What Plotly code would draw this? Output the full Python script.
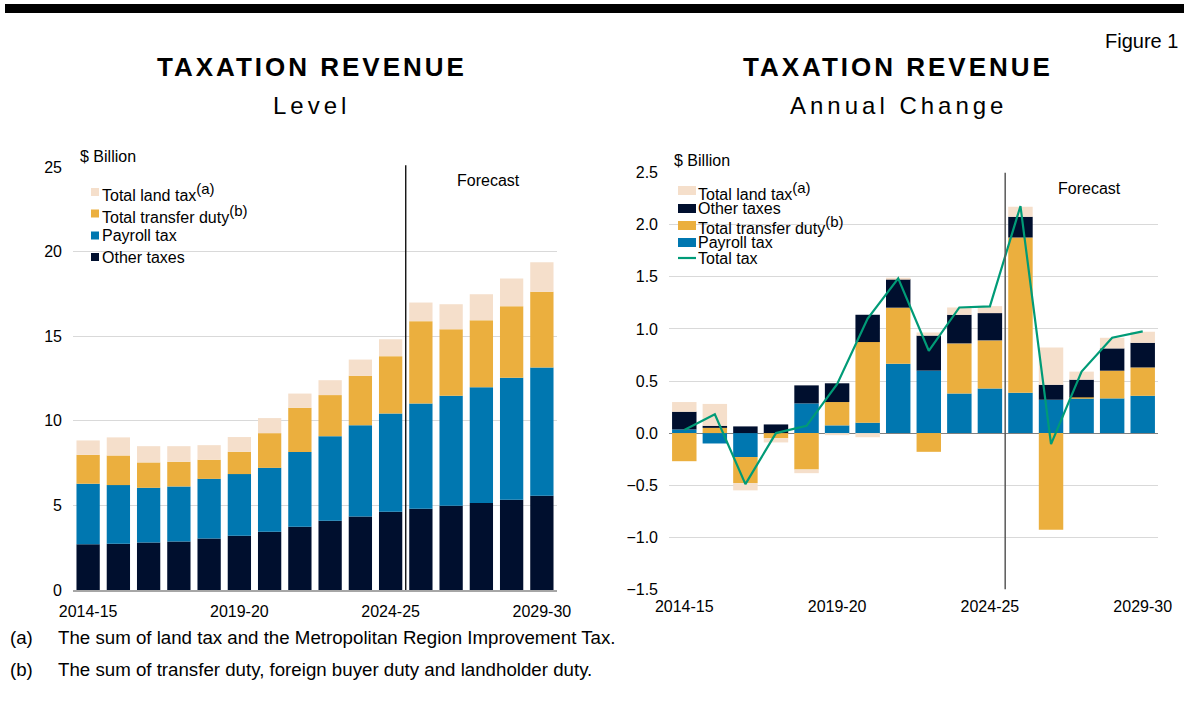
import plotly.graph_objects as go

W, H = 1184, 706

years = ["2014-15", "2015-16", "2016-17", "2017-18", "2018-19", "2019-20", "2020-21", "2021-22",
         "2022-23", "2023-24", "2024-25", "2025-26", "2026-27", "2027-28", "2028-29", "2029-30"]
tick_years = ["2014-15", "2019-20", "2024-25", "2029-30"]

# Level ($ billion)
other_level = [2.70, 2.74, 2.80, 2.87, 3.05, 3.21, 3.44, 3.74, 4.09, 4.35, 4.63, 4.80, 4.98, 5.14, 5.33, 5.57]
payroll_level = [3.58, 3.46, 3.24, 3.25, 3.52, 3.64, 3.78, 4.41, 5.00, 5.39, 5.80, 6.22, 6.50, 6.85, 7.21, 7.58]
transfer_level = [1.71, 1.75, 1.50, 1.46, 1.13, 1.32, 2.05, 2.62, 2.43, 2.92, 3.39, 4.87, 3.93, 3.95, 4.23, 4.47]
land_level = [0.85, 1.07, 0.96, 0.92, 0.86, 0.87, 0.89, 0.84, 0.88, 0.96, 1.00, 1.10, 1.48, 1.54, 1.64, 1.75]

# Annual change ($ billion)
payroll_chg = [0.035, -0.10, -0.23, 0.0, 0.285, 0.074, 0.10, 0.666, 0.60, 0.381, 0.429, 0.387, 0.32, 0.333, 0.333, 0.358]
transfer_chg = [-0.27, 0.05, -0.25, -0.05, -0.35, 0.224, 0.774, 0.538, -0.18, 0.48, 0.461, 1.491, -0.928, 0.01, 0.266, 0.272]
other_chg = [0.17, 0.02, 0.064, 0.083, 0.173, 0.18, 0.262, 0.275, 0.336, 0.275, 0.262, 0.198, 0.144, 0.17, 0.214, 0.237]
land_chg = [0.093, 0.21, -0.07, -0.04, -0.035, -0.02, -0.04, 0.005, 0.03, 0.07, 0.067, 0.096, 0.358, 0.077, 0.102, 0.106]
total_chg = [0.03, 0.18, -0.49, 0.0, 0.07, 0.47, 1.10, 1.485, 0.79, 1.206, 1.216, 2.18, -0.106, 0.59, 0.915, 0.976]

forecast_start = 10.5  # between 2024-25 and 2025-26

C_OTHER = "#000F2E"
C_PAYROLL = "#0077B0"
C_TRANSFER = "#EBAF3E"
C_LAND = "#F5DFCB"
C_TOTAL = "#009B77"
FONT = "Arial, 'Liberation Sans', sans-serif"


def fx(p):
    return p / W


def fy(p):
    return 1 - p / H


def sup(s):
    return '<sup><span style="font-size:15px">' + s + '</span></sup>'


fig = go.Figure()

# left: levels, stacked bottom-up
for name, vals, col in [("Other taxes", other_level, C_OTHER), ("Payroll tax", payroll_level, C_PAYROLL),
                        ("Total transfer duty", transfer_level, C_TRANSFER), ("Total land tax", land_level, C_LAND)]:
    fig.add_trace(go.Bar(x=years, y=vals, name=name, marker=dict(color=col, line_width=0),
                         width=0.77, xaxis="x", yaxis="y", showlegend=False))

# right: annual change
for name, vals, col in [("Payroll tax", payroll_chg, C_PAYROLL), ("Total transfer duty", transfer_chg, C_TRANSFER),
                        ("Other taxes", other_chg, C_OTHER), ("Total land tax", land_chg, C_LAND)]:
    fig.add_trace(go.Bar(x=years, y=vals, name=name, marker=dict(color=col, line_width=0),
                         width=0.8, xaxis="x2", yaxis="y2", showlegend=False))
fig.add_trace(go.Scatter(x=years, y=total_chg, name="Total tax", mode="lines",
                         line=dict(color=C_TOTAL, width=2.2), xaxis="x2", yaxis="y2", showlegend=False))

tickfont = dict(family=FONT, size=16, color="#000000")
xcommon = dict(type="category", categoryorder="array", categoryarray=years, tickvals=tick_years,
               ticktext=tick_years, showgrid=False, ticks="", tickfont=tickfont, range=[-0.5, 15.5],
               ticklabelstandoff=6, fixedrange=True, automargin=False)
ycommon = dict(gridcolor="#D9D9D9", gridwidth=1.2, showline=False, ticks="", tickfont=tickfont,
               ticklabelstandoff=10, fixedrange=True, automargin=False)

fig.update_layout(
    width=W, height=H,
    margin=dict(l=0, r=0, t=0, b=0, pad=0, autoexpand=False),
    paper_bgcolor="white", plot_bgcolor="white",
    barmode="relative",
    showlegend=False,
    font=dict(family=FONT, size=16, color="#000000"),
    xaxis=dict(xcommon, domain=[fx(73), fx(557)], anchor="y", showline=True, linecolor="#A6A6A6", linewidth=1.5),
    yaxis=dict(ycommon, domain=[fy(590), fy(167)], anchor="x", range=[0, 25], dtick=5, zeroline=False),
    xaxis2=dict(xcommon, domain=[fx(669), fx(1158)], anchor="y2", showline=False),
    yaxis2=dict(ycommon, domain=[fy(589.3), fy(172.7)], anchor="x2", range=[-1.5, 2.5], dtick=0.5,
                tickformat=".1f", zeroline=True, zerolinecolor="#808080", zerolinewidth=1.2),
)

shapes = [
    dict(type="rect", xref="paper", yref="paper", x0=fx(5), x1=1, y0=fy(13), y1=fy(4),
         fillcolor="#000000", line_width=0),
    dict(type="line", xref="x", yref="y domain", x0=forecast_start, x1=forecast_start, y0=0, y1=1.004,
         line=dict(color="#000000", width=1.3)),
    dict(type="line", xref="x2", yref="y2 domain", x0=forecast_start, x1=forecast_start, y0=0, y1=1,
         line=dict(color="#595959", width=1.5)),
]

note_font = dict(size=18.7)
annotations = [
    dict(text="<b>TAXATION REVENUE</b>", x=fx(312), y=fy(67), font=dict(size=26)),
    dict(text="Level", x=fx(312), y=fy(105), font=dict(size=24)),
    dict(text="<b>TAXATION REVENUE</b>", x=fx(898), y=fy(67), font=dict(size=26)),
    dict(text="Annual Change", x=fx(898), y=fy(105), font=dict(size=24)),
    dict(text="Figure 1", x=fx(1180), y=fy(41), xanchor="right", font=dict(size=20)),
    dict(text="$ Billion", x=fx(78), y=fy(156), xanchor="left"),
    dict(text="$ Billion", x=fx(672), y=fy(161), xanchor="left"),
    dict(text="Forecast", x=fx(488), y=fy(181)),
    dict(text="Forecast", x=fx(1089), y=fy(188)),
    dict(text="(a)", x=fx(8), y=fy(637), xanchor="left", font=note_font),
    dict(text="The sum of land tax and the Metropolitan Region Improvement Tax.", x=fx(56), y=fy(637),
         xanchor="left", font=note_font),
    dict(text="(b)", x=fx(8), y=fy(669), xanchor="left", font=note_font),
    dict(text="The sum of transfer duty, foreign buyer duty and landholder duty.", x=fx(56), y=fy(669),
         xanchor="left", font=note_font),
]

# left legend
left_legend = [("Total land tax" + sup("(a)"), C_LAND, 192), ("Total transfer duty" + sup("(b)"), C_TRANSFER, 213.5),
               ("Payroll tax", C_PAYROLL, 235.5), ("Other taxes", C_OTHER, 257)]
for label, col, yy in left_legend:
    shapes.append(dict(type="rect", xref="paper", yref="paper", x0=fx(91), x1=fx(99), y0=fy(yy + 4), y1=fy(yy - 4),
                       fillcolor=col, line_width=0))
    annotations.append(dict(text=label, x=fx(101), y=fy(yy), xanchor="left", borderpad=0))

# right legend
right_legend = [("Total land tax" + sup("(a)"), C_LAND, 190.5), ("Other taxes", C_OTHER, 208.5),
                ("Total transfer duty" + sup("(b)"), C_TRANSFER, 225.5), ("Payroll tax", C_PAYROLL, 242.5)]
for label, col, yy in right_legend:
    shapes.append(dict(type="rect", xref="paper", yref="paper", x0=fx(678), x1=fx(696), y0=fy(yy + 4.5),
                       y1=fy(yy - 4.5), fillcolor=col, line_width=0))
    annotations.append(dict(text=label, x=fx(697), y=fy(yy), xanchor="left", borderpad=0))
shapes.append(dict(type="line", xref="paper", yref="paper", x0=fx(678), x1=fx(696), y0=fy(258), y1=fy(258),
                   line=dict(color=C_TOTAL, width=2.2)))
annotations.append(dict(text="Total tax", x=fx(697), y=fy(258), xanchor="left", borderpad=0))

for a in annotations:
    a.setdefault("xref", "paper")
    a.setdefault("yref", "paper")
    a.setdefault("showarrow", False)
    a.setdefault("yanchor", "middle")
    a.setdefault("xanchor", "center")

fig.update_layout(shapes=shapes, annotations=annotations)

# page without margins, and wide letter spacing on the headings
page_js = """
document.body.style.margin = '0';
document.body.style.overflow = 'hidden';
var gd = document.getElementById('{plot_id}');
gd.querySelectorAll('text.annotation-text').forEach(function(t){
  if (t.textContent === 'TAXATION REVENUE') { t.style.letterSpacing = '3px'; }
  if (t.textContent === 'Level' || t.textContent === 'Annual Change') { t.style.letterSpacing = '4px'; }
});
"""

fig.write_html("out.html", config={"displayModeBar": False}, post_script=page_js)
